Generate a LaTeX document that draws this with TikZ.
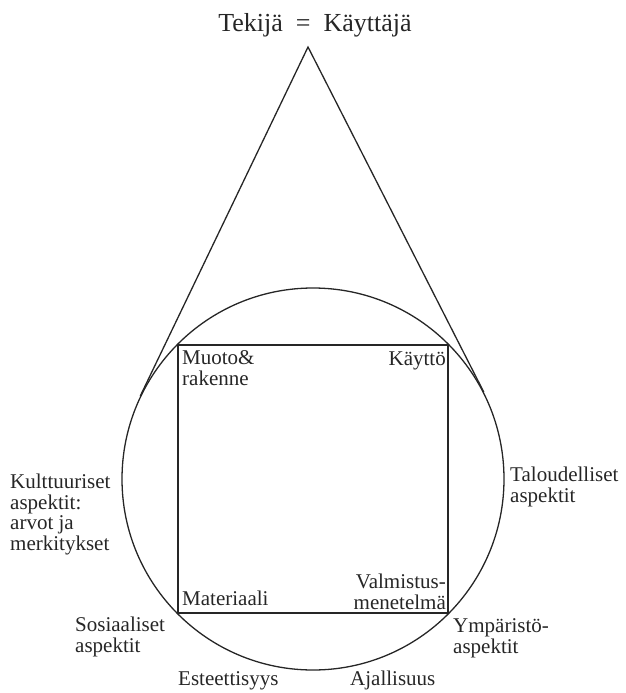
\documentclass[tikz,border=0pt]{standalone}
\usepackage{fontspec}
\setmainfont{Liberation Serif}
\usetikzlibrary{calc}
\begin{document}
\begin{tikzpicture}[x=1pt,y=-1pt,
  lbl/.style={anchor=base west,inner sep=0pt,align=left,font=\fontsize{21}{20.5}\selectfont,text=black!85},
  lblr/.style={anchor=base east,inner sep=0pt,align=right,font=\fontsize{21}{20.5}\selectfont,text=black!85},
  shp/.style={draw=black!85,line width=1.3pt}]
\useasboundingbox (0,0) rectangle (626,693);
\node[shp,circle,minimum size=382pt,inner sep=0pt] (circ) at (313,479) {};
\node[shp,rectangle,minimum width=270pt,minimum height=268pt,inner sep=0pt] (sq) at (313,479) {};
\coordinate (apex) at (308,47);
\coordinate (tl) at (tangent cs:node=circ,point={(apex)},solution=1);
\coordinate (tr) at (tangent cs:node=circ,point={(apex)},solution=2);
\draw[shp,line join=miter] (tl) -- (apex) -- (tr);
\node[anchor=base,inner sep=0pt,font=\fontsize{26}{28}\selectfont,text=black!85] (title) at (315,32) {Tekijä\ \ =\ \ Käyttäjä};
\node[lbl] (kult) at (10,550) {Kulttuuriset\\aspektit:\\arvot ja\\merkitykset};
\node[lbl] (talo) at (510,502) {Taloudelliset\\aspektit};
\node[lbl] (ymp) at (453,653) {Ympäristö-\\aspektit};
\node[lbl] (sos) at (75,652) {Sosiaaliset\\aspektit};
\node[lbl] (est) at (178,685) {Esteettisyys};
\node[lbl] (ajal) at (350,685) {Ajallisuus};
\node[lbl] (muoto) at (182,385) {Muoto\&\\rakenne};
\node[lblr] (kaytto) at (446,365) {Käyttö};
\node[lbl] (mat) at (182,605) {Materiaali};
\node[lblr] (valm) at (446,609) {Valmistus-\\menetelmä};
\end{tikzpicture}
\end{document}
